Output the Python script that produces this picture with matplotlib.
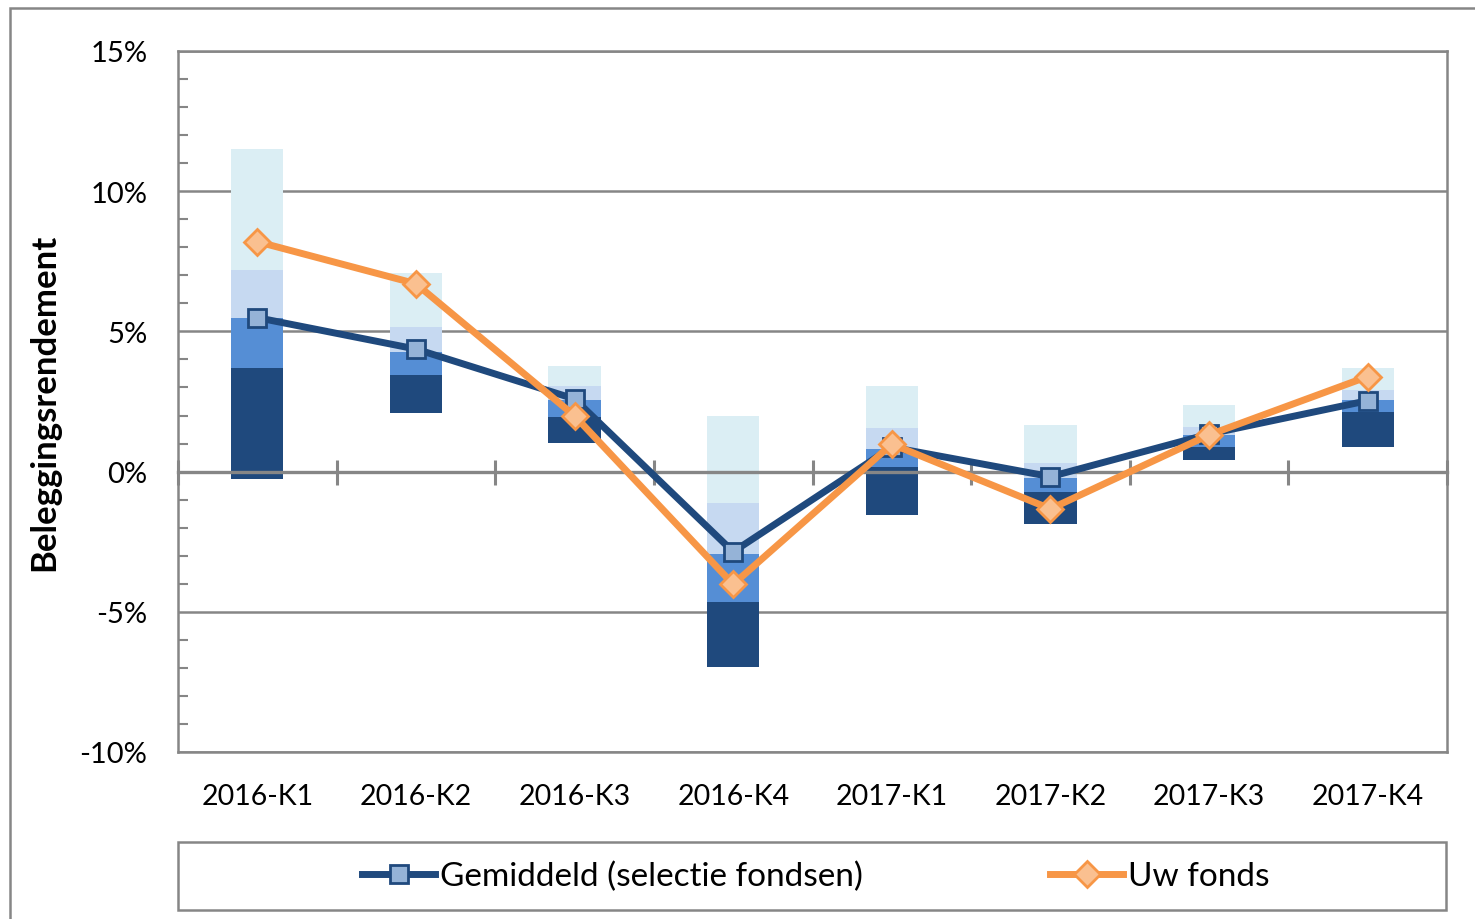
import matplotlib
matplotlib.use("Agg")
import matplotlib.pyplot as plt
from matplotlib.patches import Rectangle
from matplotlib.lines import Line2D
from matplotlib.ticker import MultipleLocator, FuncFormatter
import numpy as np

plt.rcParams['font.family'] = ['Lato', 'DejaVu Sans']

categories = ["2016-K1", "2016-K2", "2016-K3", "2016-K4",
              "2017-K1", "2017-K2", "2017-K3", "2017-K4"]
# percentile bands (in %)
p_low  = [-0.26, 2.08, 1.01, -6.97, -1.55, -1.87, 0.40, 0.88]
q1     = [3.68, 3.46, 1.96, -4.64, 0.18, -0.72, 0.89, 2.14]
median = [5.48, 4.28, 2.55, -2.94, 0.81, -0.22, 1.31, 2.55]
q3     = [7.18, 5.16, 3.05, -1.13, 1.55, 0.31, 1.60, 2.92]
p_high = [11.50, 7.07, 3.77, 1.97, 3.05, 1.66, 2.37, 3.69]
gemiddeld = [5.49, 4.37, 2.59, -2.86, 0.87, -0.18, 1.34, 2.53]
uw_fonds = [8.20, 6.70, 1.99, -4.02, 0.98, -1.33, 1.31, 3.39]

label_gem = "Gemiddeld (selectie fondsen)"
label_uw = "Uw fonds"
ylabel = "Beleggingsrendement"

c_dark = "#1F497D"
c_mid = "#558ED5"
c_light = "#C6D9F1"
c_lightest = "#DBEEF4"
c_orange = "#F79646"
c_orange_face = "#FAC090"
c_navy_face = "#95B3D7"
grey = "#868686"

W, H = 1475, 920
fig = plt.figure(figsize=(W / 100, H / 100), dpi=100)
ax = fig.add_axes([178 / W, 1 - 753 / H, (1447 - 178) / W, (753 - 52) / H])

x = np.arange(len(categories))
bw = 0.33
p_low_a = np.array(p_low); q1_a = np.array(q1); med_a = np.array(median)
q3_a = np.array(q3); ph_a = np.array(p_high)
ax.bar(x, q1_a - p_low_a, bottom=p_low_a, width=bw, color=c_dark, zorder=2, linewidth=0)
ax.bar(x, med_a - q1_a, bottom=q1_a, width=bw, color=c_mid, zorder=2, linewidth=0)
ax.bar(x, q3_a - med_a, bottom=med_a, width=bw, color=c_light, zorder=2, linewidth=0)
ax.bar(x, ph_a - q3_a, bottom=q3_a, width=bw, color=c_lightest, zorder=2, linewidth=0)

LW = 5.0
ax.plot(x, gemiddeld, color=c_dark, lw=LW, marker='s', markersize=13,
        markerfacecolor=c_navy_face, markeredgecolor=c_dark, markeredgewidth=2, zorder=4,
        solid_joinstyle='round')
ax.plot(x, uw_fonds, color=c_orange, lw=LW, marker='D', markersize=13,
        markerfacecolor=c_orange_face, markeredgecolor=c_orange, markeredgewidth=2, zorder=5,
        solid_joinstyle='round')

ax.set_xlim(-0.5, len(categories) - 0.5)
ax.set_ylim(-10, 15)
ax.yaxis.set_major_locator(MultipleLocator(5))
ax.yaxis.set_minor_locator(MultipleLocator(1))
ax.yaxis.set_major_formatter(FuncFormatter(lambda v, p: f"{v:.0f}%"))
ax.tick_params(axis='y', which='major', length=0, pad=22, labelsize=21)
ax.tick_params(axis='y', which='minor', direction='in', length=7, width=1.5, color=grey)
ax.grid(axis='y', which='major', color=grey, lw=1.8, zorder=1)
ax.set_axisbelow(True)

# zero axis with boundary ticks
ax.spines['bottom'].set_position(('data', 0))
ax.spines['bottom'].set_color(grey)
ax.spines['bottom'].set_linewidth(2.4)
ax.spines['bottom'].set_zorder(3)
ax.set_xticks(np.arange(len(categories) + 1) - 0.5)
ax.tick_params(axis='x', which='major', direction='inout', length=18, width=2.2, color=grey,
               labelbottom=False)
for s in ['left', 'top', 'right']:
    ax.spines[s].set_color(grey)
    ax.spines[s].set_linewidth(1.8)

sec = ax.secondary_xaxis(0)
sec.set_xticks(x, categories)
sec.tick_params(length=0, pad=22, labelsize=20.5)
sec.spines['bottom'].set_color(grey)
sec.spines['bottom'].set_linewidth(1.8)

fig.text(44 / W, 1 - 402 / H, ylabel, rotation=90, ha='center', va='center',
         fontsize=25, fontweight='bold')

# outer chart border
fig.patches.append(Rectangle((10 / W, -0.1), 2, 1 - 9 / H + 0.1, transform=fig.transFigure,
                             fill=False, edgecolor=grey, lw=1.8))
# legend box
fig.patches.append(Rectangle((178 / W, 1 - 911 / H), (1446 - 178) / W, 68 / H,
                             transform=fig.transFigure, fill=False, edgecolor=grey, lw=1.8))
handles = [
    Line2D([], [], color=c_dark, lw=LW, marker='s', markersize=13,
           markerfacecolor=c_navy_face, markeredgecolor=c_dark, markeredgewidth=2),
    Line2D([], [], color=c_orange, lw=LW, marker='D', markersize=13,
           markerfacecolor=c_orange_face, markeredgecolor=c_orange, markeredgewidth=2),
]
fig.legend(handles, [label_gem, label_uw], loc='center',
           bbox_to_anchor=(816 / W, 1 - 877 / H), ncol=2, frameon=False,
           fontsize=24, handlelength=2.2, handletextpad=0.15, columnspacing=5.6,
           borderpad=0, borderaxespad=0)

fig.savefig("out.png", dpi=100)
